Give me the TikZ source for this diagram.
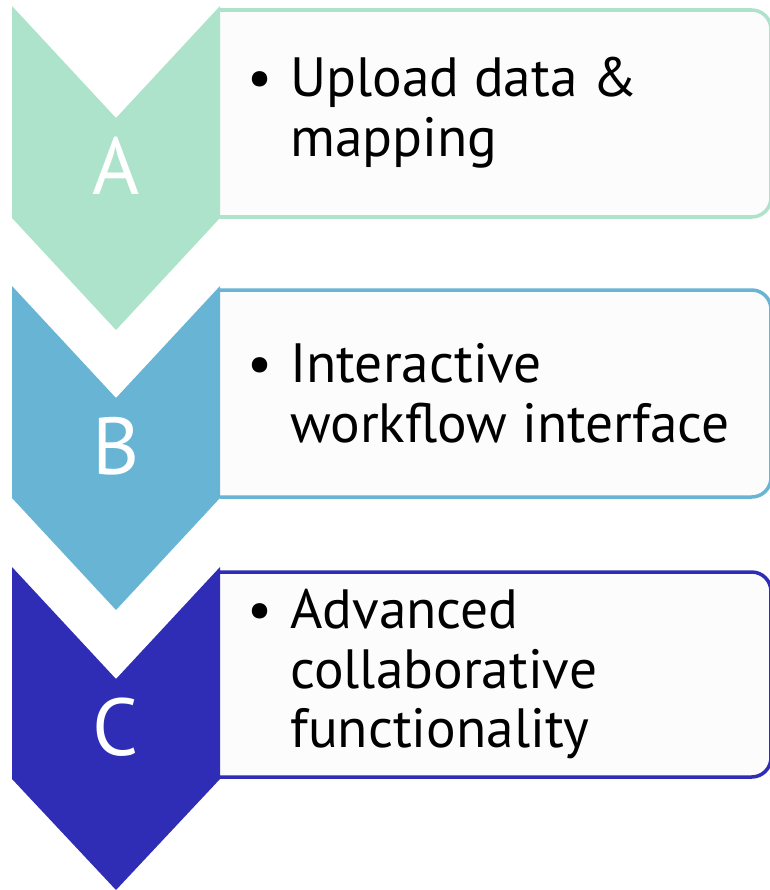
\documentclass[tikz,border=0pt]{standalone}
\usepackage{fontspec}
\setmainfont{PT Sans}
\definecolor{mintA}{HTML}{ADE3CB}
\definecolor{blueB}{HTML}{67B4D4}
\definecolor{indigoC}{HTML}{2F2DB5}
\definecolor{panelfill}{HTML}{FCFCFC}
\begin{document}
\begin{tikzpicture}[x=0.02cm, y=-0.02cm,
    letter/.style={text=white, font=\fontsize{46}{46}\selectfont, inner sep=0pt},
    item/.style={anchor=west, align=left, inner sep=0pt, font=\fontsize{31.5}{34}\selectfont},
    panel/.style={line width=2pt, fill=panelfill, rounded corners=11pt}]
    \useasboundingbox (0,0) rectangle (770,890);

    % Etapa A
    \filldraw[panel, draw=mintA] (220,10) -- (771,10) -- (771,217) -- (220,217);
    \fill[mintA] (12,6) -- (116,118) -- (220,6) -- (220,218) -- (116,330) -- (12,218) -- cycle;
    \node[letter] (letA) at (116,166) {A};
    \node[item] (txtA) at (290,113) {\llap{\textbullet\hspace{10pt}}Upload data \&\\mapping};

    % Etapa B
    \filldraw[panel, draw=blueB] (220,290) -- (771,290) -- (771,497) -- (220,497);
    \fill[blueB] (12,286) -- (116,398) -- (220,286) -- (220,498) -- (116,610) -- (12,498) -- cycle;
    \node[letter] (letB) at (116,446) {B};
    \node[item] (txtB) at (290,393) {\llap{\textbullet\hspace{10pt}}Interactive\\workflow interface};

    % Etapa C
    \filldraw[panel, draw=indigoC] (220,572) -- (771,572) -- (771,777) -- (220,777);
    \fill[indigoC] (12,567) -- (116,679) -- (220,567) -- (220,779) -- (116,890) -- (12,779) -- cycle;
    \node[letter] (letC) at (116,727) {C};
    \node[item] (txtC) at (290,674) {\llap{\textbullet\hspace{10pt}}Advanced\\collaborative\\functionality};
\end{tikzpicture}
\end{document}
